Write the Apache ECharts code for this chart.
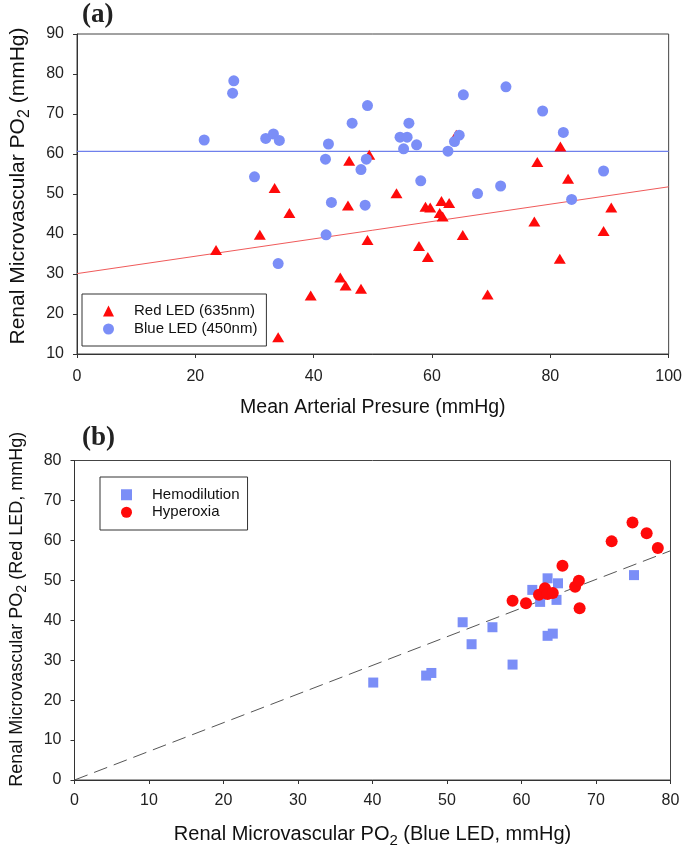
<!DOCTYPE html>
<html>
<head>
<meta charset="utf-8">
<script src="https://cdn.jsdelivr.net/npm/echarts@6/dist/echarts.min.js"></script>
<style>html,body{margin:0;padding:0;background:#fff}#c{width:685px;height:849px}</style>
</head>
<body>
<div id="c"></div>
<script>
// Panel (a): Mean arterial pressure vs renal microvascular PO2
var redMAP = [23.5, 30.9, 33.4, 34.0, 35.9, 39.5, 44.5, 45.4, 45.8, 46.0, 48.0, 49.1, 49.4, 54.0, 57.8, 58.9, 59.3, 59.7, 61.3, 61.6, 61.8, 62.9, 64.1, 65.2, 69.4, 77.3, 77.8, 81.6, 81.7, 83.0, 89.0, 90.3];
var redPO2 = [36.0, 39.8, 51.5, 14.2, 45.25, 24.65, 29.15, 27.1, 47.1, 58.3, 26.3, 38.5, 59.8, 50.2, 37.0, 46.8, 34.25, 46.65, 45.25, 48.25, 44.4, 47.75, 64.8, 39.75, 24.9, 43.15, 58.0, 33.8, 61.9, 53.8, 40.75, 46.6];
var blueMAP = [21.5, 26.3, 26.5, 30.0, 31.9, 33.2, 34.0, 34.2, 42.0, 42.1, 42.5, 43.0, 46.5, 48.0, 48.7, 48.9, 49.1, 54.6, 55.2, 55.8, 56.1, 57.4, 58.1, 62.7, 63.8, 64.6, 65.3, 67.7, 71.6, 72.5, 78.7, 82.2, 83.6, 89.0];
var bluePO2 = [63.5, 75.2, 78.3, 54.3, 63.9, 65.0, 32.6, 63.4, 58.7, 39.8, 62.5, 47.9, 67.7, 56.1, 47.2, 58.7, 72.1, 64.2, 61.3, 64.2, 67.7, 62.3, 53.3, 60.7, 63.1, 64.7, 74.8, 50.1, 52.0, 76.8, 70.75, 65.4, 48.65, 55.75];
var redFitX = [0, 100];
var redFitY = [30.1, 51.8];
var blueFitX = [0, 100];
var blueFitY = [60.65, 60.65];
var aXTicks = {min: 0, max: 100, interval: 20};
var aYTicks = {min: 10, max: 90, interval: 10};

// Panel (b): Blue LED vs Red LED PO2
var hemoBlue = [40.1, 47.2, 47.9, 52.1, 53.3, 56.1, 58.8, 61.45, 62.5, 63.5, 63.5, 64.2, 64.7, 64.9, 75.1];
var hemoRed = [24.4, 26.15, 26.8, 39.5, 34.0, 38.25, 28.9, 47.6, 44.6, 50.5, 36.1, 36.65, 45.1, 49.25, 51.3];
var hyperBlue = [58.8, 60.6, 62.35, 63.15, 63.5, 64.2, 65.5, 67.2, 67.7, 67.8, 72.1, 74.9, 76.8, 78.3];
var hyperRed = [44.9, 44.25, 46.4, 48.0, 46.6, 46.8, 53.65, 48.4, 49.9, 43.0, 59.75, 64.5, 61.8, 58.1];
var refX = [0, 80];
var refY = [0, 57.4];
var bXTicks = {min: 0, max: 80, interval: 10};
var bYTicks = {min: 0, max: 80, interval: 10};

function zip(a, b) { return a.map(function (v, i) { return [v, b[i]]; }); }

var FONT = 'Liberation Sans, Arial, sans-serif';
var RED = '#ff0a0a';
var BLUE = '#7b8ef7';
function nameStyle(size, extra) {
  var s = { fontSize: size, fontFamily: FONT, color: '#111',
    rich: { s: { fontSize: Math.round(size * 0.75), fontFamily: FONT, color: '#111', padding: [Math.round(size * 0.6), 0, 0, 0] } } };
  return Object.assign(s, extra || {});
}
var axisLine = { show: true, lineStyle: { color: '#333', width: 1 } };
var axisTick = { show: true, inside: false, length: 4, lineStyle: { color: '#333' } };
var axisLabel = { fontSize: 16, fontFamily: FONT, color: '#222' };

function xAx(grid, t, name, gap, margin, ns) {
  return { type: 'value', gridIndex: grid, min: t.min, max: t.max, interval: t.interval,
    name: name, nameLocation: 'middle', nameGap: gap, nameTextStyle: ns,
    axisLine: axisLine, axisTick: axisTick, splitLine: { show: false },
    axisLabel: Object.assign({ margin: margin }, axisLabel) };
}
function yAx(grid, t, name, gap, ns) {
  return { type: 'value', gridIndex: grid, min: t.min, max: t.max, interval: t.interval,
    name: name, nameLocation: 'middle', nameGap: gap, nameTextStyle: ns,
    axisLine: axisLine, axisTick: axisTick, splitLine: { show: false },
    axisLabel: Object.assign({ margin: 13 }, axisLabel) };
}

var chart = echarts.init(document.getElementById('c'), null, { renderer: 'canvas' });
chart.setOption({
  animation: false,
  backgroundColor: '#fff',
  title: [
    { text: '(a)', left: 82, top: 2, padding: 0, textStyle: { fontFamily: 'Liberation Serif, serif', fontWeight: 'bold', fontSize: 27, color: '#222' } },
    { text: '(b)', left: 82, top: 425, padding: 0, textStyle: { fontFamily: 'Liberation Serif, serif', fontWeight: 'bold', fontSize: 27, color: '#222' } }
  ],
  grid: [
    { left: 75, top: 34, width: 596, height: 320, show: true, borderColor: '#444', borderWidth: 1 },
    { left: 74.5, top: 460.5, width: 596, height: 320, show: true, borderColor: '#444', borderWidth: 1 }
  ],
  xAxis: [
    xAx(0, aXTicks, 'Mean Arterial Presure (mmHg)', 44, 15, nameStyle(19.5)),
    xAx(1, bXTicks, 'Renal Microvascular PO{s|2} (Blue LED, mmHg)', 41, 13, nameStyle(20))
  ],
  yAxis: [
    yAx(0, aYTicks, 'Renal Microvascular PO{s|2} (mmHg)', 44, nameStyle(21, { padding: [0, 0, 0, 16] })),
    yAx(1, bYTicks, 'Renal Microvascular PO{s|2} (Red LED, mmHg)', 45, nameStyle(18, { padding: [0, 0, 0, 22] }))
  ],
  legend: [
    { orient: 'vertical', left: 82, top: 294, padding: [8, 9, 8, 21], itemGap: 0,
      itemWidth: 11, itemHeight: 11, borderColor: '#333', borderWidth: 1,
      textStyle: { fontSize: 15, fontFamily: FONT, color: '#111', lineHeight: 18, padding: [0, 0, 0, 15] },
      data: ['Red LED (635nm)', 'Blue LED (450nm)'] },
    { orient: 'vertical', left: 100, top: 477, padding: [9, 8, 9, 21], itemGap: 0,
      itemWidth: 11, itemHeight: 11, borderColor: '#333', borderWidth: 1,
      textStyle: { fontSize: 15, fontFamily: FONT, color: '#111', lineHeight: 17.5, padding: [0, 0, 0, 15] },
      data: ['Hemodilution', 'Hyperoxia'] }
  ],
  series: [
    { name: 'redFit', type: 'line', xAxisIndex: 0, yAxisIndex: 0, data: zip(redFitX, redFitY),
      symbol: 'none', lineStyle: { color: '#f05a5a', width: 1 }, silent: true, z: 1 },
    { name: 'blueFit', type: 'line', xAxisIndex: 0, yAxisIndex: 0, data: zip(blueFitX, blueFitY),
      symbol: 'none', lineStyle: { color: '#6f80ec', width: 1.2 }, silent: true, z: 1 },
    { name: 'Red LED (635nm)', type: 'scatter', xAxisIndex: 0, yAxisIndex: 0, data: zip(redMAP, redPO2),
      symbol: 'triangle', symbolSize: [12, 10], itemStyle: { color: RED, opacity: 1 }, z: 2 },
    { name: 'Blue LED (450nm)', type: 'scatter', xAxisIndex: 0, yAxisIndex: 0, data: zip(blueMAP, bluePO2),
      symbol: 'circle', symbolSize: 11, itemStyle: { color: BLUE, opacity: 1 }, z: 3 },
    { name: 'ref', type: 'line', xAxisIndex: 1, yAxisIndex: 1, data: zip(refX, refY),
      symbol: 'none', lineStyle: { color: '#555', width: 1, type: [14, 7] }, silent: true, z: 1 },
    { name: 'Hemodilution', type: 'scatter', xAxisIndex: 1, yAxisIndex: 1, data: zip(hemoBlue, hemoRed),
      symbol: 'rect', symbolSize: 10, itemStyle: { color: BLUE, opacity: 1 }, z: 2 },
    { name: 'Hyperoxia', type: 'scatter', xAxisIndex: 1, yAxisIndex: 1, data: zip(hyperBlue, hyperRed),
      symbol: 'circle', symbolSize: 12, itemStyle: { color: RED, opacity: 1 }, z: 3 }
  ]
});
</script>
</body>
</html>
